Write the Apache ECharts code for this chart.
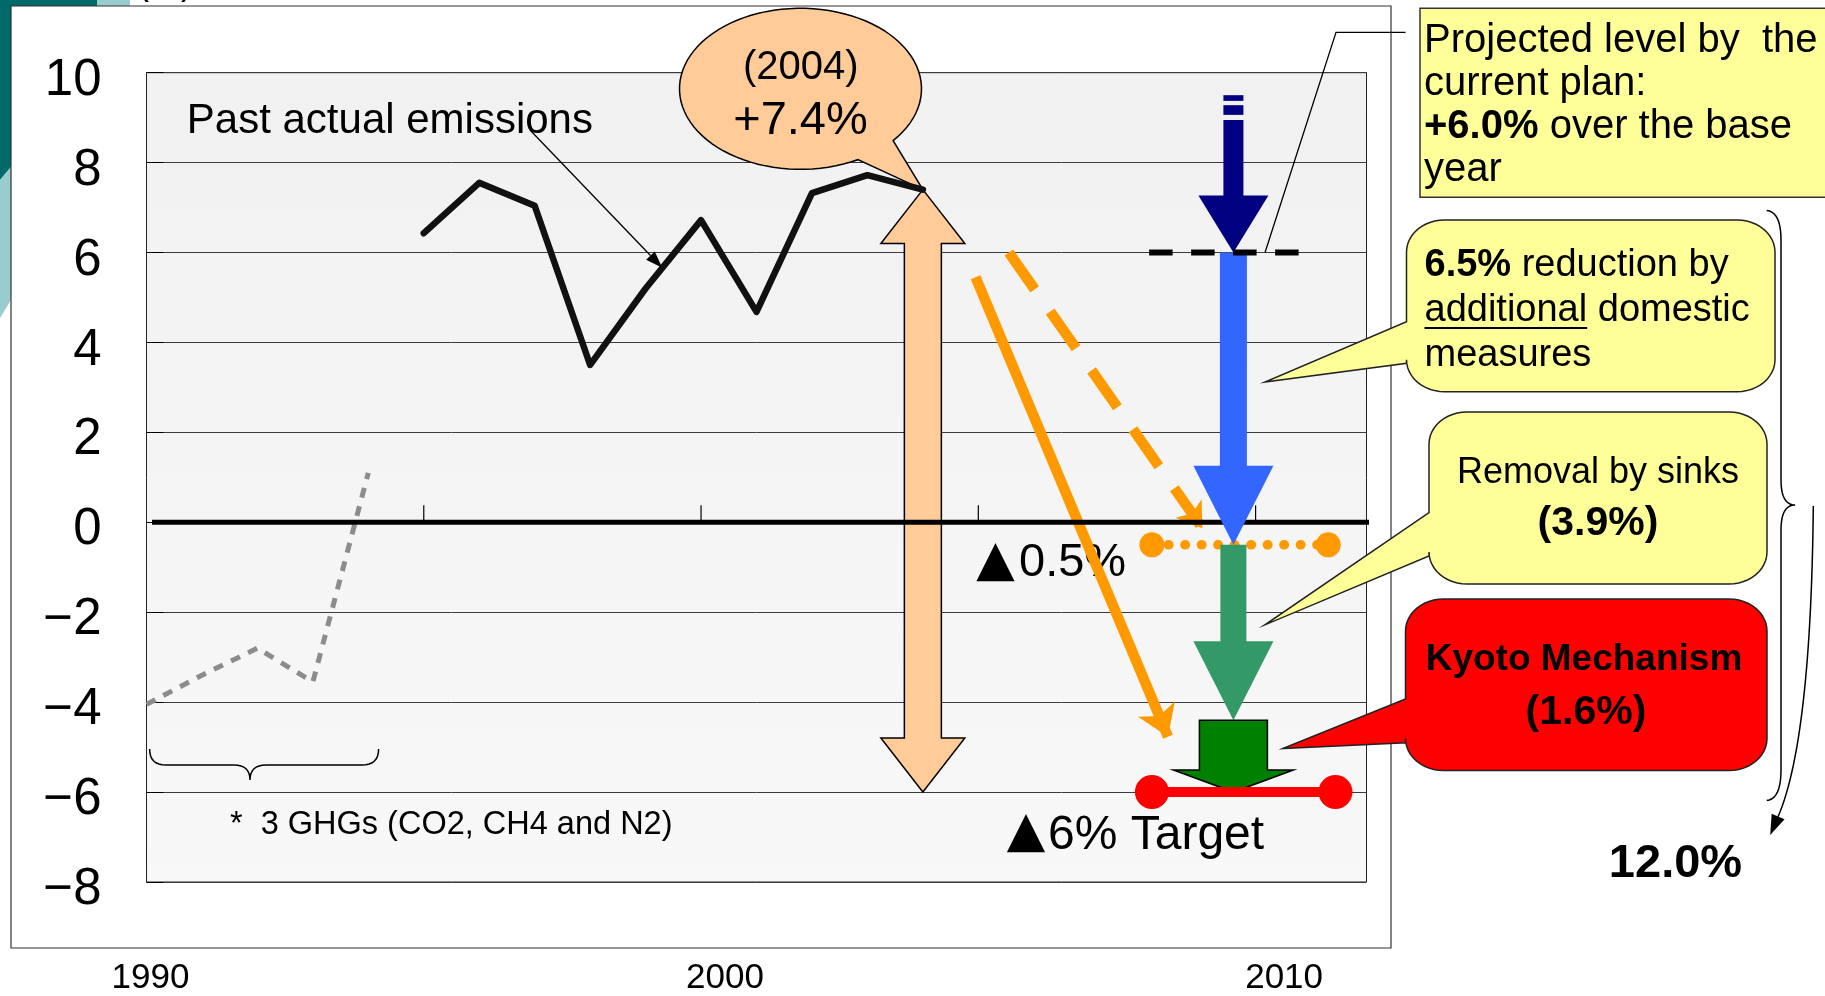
<!DOCTYPE html>
<html>
<head>
<meta charset="utf-8">
<title>Emissions and the path to the -6% target</title>
<script src="https://cdn.jsdelivr.net/npm/echarts@6/dist/echarts.min.js"></script>
<style>
  html, body { margin: 0; padding: 0; background: #ffffff; }
  #chart { width: 1825px; height: 996px; }
</style>
</head>
<body>
<div id="chart"></div>
<script>
// ---- data (change from the base year, %) ----
const pastYears = [1995, 1996, 1997, 1998, 1999, 2000, 2001, 2002, 2003, 2004];
const pastEmissions = [6.43, 7.55, 7.04, 3.5, 5.2, 6.72, 4.68, 7.32, 7.72, 7.4];
const ghgYears = [1990, 1991, 1992, 1993, 1994];
const ghgEmissions = [-4.05, -3.4, -2.8, -3.55, 1.1];
const yearLabels = [1990, 2000, 2010];
const axisTickYears = [1995, 2000, 2005, 2010];

const latestYear = 2004;
const latestLevel = 7.4;
const planYear = 2009.6;
const planTop = 9.5;
const projectedLevel = 6.0;
const domesticCut = 6.5;
const sinkRemoval = 3.9;
const kyotoCredit = 1.6;
const targetLevel = -6.0;

const afterDomestic = projectedLevel - domesticCut;
const afterSinks = afterDomestic - sinkRemoval;
const stepTops = [planTop, projectedLevel, afterDomestic, afterSinks];
const stepEnds = [projectedLevel, afterDomestic, afterSinks, targetLevel];

const trendSolid = [[2004.95, 5.45], [2008.42, -4.77]];
const trendDashed = [[2005.55, 6.0], [2009.04, -0.13]];
const midRange = [2008.13, 2011.31];
const targetRange = [2008.13, 2011.44];
const planRange = [2008.08, 2010.78];
const baseLine = [1990.1, 2012.16];

const FONT = '"Liberation Sans", Arial, Helvetica, sans-serif';
const chart = echarts.init(document.getElementById('chart'), null, { renderer: 'canvas', width: 1825, height: 996 });

// ---- custom shapes ----
function tickItem(params, api) {
  const p = api.coord([api.value(0), api.value(1)]);
  return { type: 'line', shape: { x1: p[0], y1: p[1], x2: p[0], y2: p[1] - 17 }, style: { stroke: '#000', lineWidth: 1.2 } };
}

function doubleArrow(params, api) {
  const a = api.coord([api.value(0), api.value(1)]);
  const b = api.coord([api.value(0), api.value(2)]);
  const x = a[0], yt = a[1], yb = b[1];
  const s = 18.5, h = 42, l = 54;
  return {
    type: 'polygon',
    shape: { points: [[x, yt], [x + h, yt + l], [x + s, yt + l], [x + s, yb - l], [x + h, yb - l], [x, yb],
                      [x - h, yb - l], [x - s, yb - l], [x - s, yt + l], [x - h, yt + l]] },
    style: { fill: '#FFCC99', stroke: '#000', lineWidth: 1.5 }
  };
}

const stepLook = [
  { fill: '#000080', shaft: 20, head: 70, len: 57, gaps: true },
  { fill: '#3366FF', shaft: 27, head: 80, len: 79 },
  { fill: '#339966', shaft: 26, head: 80, len: 79 },
  { fill: '#008000', shaft: 68, head: 120, len: 22, stroke: '#000' }
];
function downArrow(params, api) {
  const look = stepLook[params.dataIndex];
  const a = api.coord([api.value(0), api.value(1)]);
  const b = api.coord([api.value(0), api.value(2)]);
  const x = a[0], y0 = a[1], y1 = b[1];
  const s = look.shaft / 2, h = look.head / 2, yb = y1 - look.len;
  const children = [];
  let top = y0;
  if (look.gaps) {
    children.push({ type: 'rect', shape: { x: x - s, y: y0, width: 2 * s, height: 5.7 }, style: { fill: look.fill } });
    children.push({ type: 'rect', shape: { x: x - s, y: y0 + 10, width: 2 * s, height: 9.7 }, style: { fill: look.fill } });
    top = y0 + 24.7;
  }
  children.push({
    type: 'polygon',
    shape: { points: [[x - s, top], [x + s, top], [x + s, yb], [x + h, yb], [x, y1], [x - h, yb], [x - s, yb]] },
    style: look.stroke ? { fill: look.fill, stroke: look.stroke, lineWidth: 1.5 } : { fill: look.fill }
  });
  return { type: 'group', children };
}

const xRich = {
  y1990: { fontSize: 35, fontFamily: FONT, color: '#000', padding: [0, 0, 0, 8] },
  y2000: { fontSize: 35, fontFamily: FONT, color: '#000', padding: [0, 0, 0, 48] },
  y2010: { fontSize: 35, fontFamily: FONT, color: '#000', padding: [0, 0, 0, 57] }
};

const option = {
  animation: false,
  backgroundColor: '#ffffff',
  grid: {
    left: 146.5, right: 458.5, top: 72.7, bottom: 114, show: true,
    backgroundColor: { type: 'linear', x: 0, y: 0, x2: 0, y2: 1,
      colorStops: [{ offset: 0, color: '#f1f1f1' }, { offset: 1, color: '#f8f8f8' }] },
    borderColor: '#222', borderWidth: 1
  },
  xAxis: {
    type: 'value', min: 1990, max: 2012, interval: 5,
    axisLine: { show: false, onZero: false }, axisTick: { show: false }, splitLine: { show: false },
    axisLabel: {
      margin: 79,
      formatter: v => yearLabels.indexOf(v) >= 0 ? '{y' + v + '|' + v + '}' : '',
      rich: xRich
    }
  },
  yAxis: {
    type: 'value', min: -8, max: 10, interval: 2,
    axisLine: { show: false },
    axisTick: { show: true, inside: true, length: 17, lineStyle: { color: '#000', width: 1 } },
    splitLine: { show: true, lineStyle: { color: '#3c3c3c', width: 1 } },
    axisLabel: {
      margin: 45, fontSize: 51, color: '#000', fontFamily: FONT,
      verticalAlign: 'top', lineHeight: 16,
      formatter: v => v < 0 ? '\u2212' + Math.abs(v) : String(v)
    }
  },
  series: [
    { name: '3 GHGs', type: 'line', data: ghgYears.map((y, i) => [y, ghgEmissions[i]]), symbol: 'none', z: 3,
      lineStyle: { color: '#8c8c8c', width: 5, type: [10, 9] } },
    { name: 'Base year', type: 'line', data: baseLine.map(x => [x, 0]), symbol: 'none', z: 4,
      lineStyle: { color: '#000', width: 5 } },
    { name: 'Axis ticks', type: 'custom', renderItem: tickItem, data: axisTickYears.map(t => [t, 0]), z: 4 },
    { name: 'Gap to target', type: 'custom', renderItem: doubleArrow, data: [[latestYear, latestLevel, targetLevel]], z: 3 },
    { name: 'Trend', type: 'lines', coordinateSystem: 'cartesian2d', data: [{ coords: trendSolid }],
      symbol: ['none', 'arrow'], symbolSize: [0, 30], z: 4,
      lineStyle: { color: '#FF9900', width: 10.5, opacity: 1 } },
    { name: 'Trend (plan)', type: 'lines', coordinateSystem: 'cartesian2d', data: [{ coords: trendDashed }],
      symbol: ['none', 'arrow'], symbolSize: [0, 24], z: 4,
      lineStyle: { color: '#FF9900', width: 10.5, opacity: 1, type: [45, 27] } },
    { name: 'After domestic measures', type: 'line', data: midRange.map(x => [x, afterDomestic]),
      symbol: 'circle', symbolSize: 25, z: 4, itemStyle: { color: '#FF9900' },
      lineStyle: { color: '#FF9900', width: 9.5, type: [0.5, 16], cap: 'round' } },
    { name: 'Reduction steps', type: 'custom', renderItem: downArrow,
      data: stepTops.map((t, i) => [planYear, t, stepEnds[i]]), z: 5 },
    { name: 'Target', type: 'line', data: targetRange.map(x => [x, targetLevel]),
      symbol: 'circle', symbolSize: 34, z: 6, itemStyle: { color: '#FF0000' },
      lineStyle: { color: '#FF0000', width: 10 } },
    { name: 'Past actual emissions', type: 'line', data: pastYears.map((y, i) => [y, pastEmissions[i]]),
      symbol: 'none', z: 6, lineStyle: { color: '#111', width: 6.5, cap: 'round', join: 'round' } },
    { name: 'Projected level', type: 'line', data: planRange.map(x => [x, projectedLevel]), symbol: 'none', z: 7,
      lineStyle: { color: '#000', width: 6, type: [23.5, 18.5] } }
  ]
};
chart.setOption(option);

// ---- annotations ----
const px = p => chart.convertToPixel({ xAxisIndex: 0, yAxisIndex: 0 }, p);

function arcPts(cx, cy, rx, ry, a0, a1, n) {
  const pts = [];
  for (let i = 0; i <= n; i++) {
    const a = (a0 + (a1 - a0) * i / n) * Math.PI / 180;
    pts.push([cx + rx * Math.cos(a), cy + ry * Math.sin(a)]);
  }
  return pts;
}
function quad(p0, c, p1, n) {
  const pts = [];
  for (let i = 1; i <= n; i++) {
    const t = i / n, u = 1 - t;
    pts.push([u * u * p0[0] + 2 * u * t * c[0] + t * t * p1[0], u * u * p0[1] + 2 * u * t * c[1] + t * t * p1[1]]);
  }
  return pts;
}
function callout(x0, y0, x1, y1, rx, ry, tailTop, tailBot, tip) {
  let pts = [[x0, tailTop]];
  pts = pts.concat(arcPts(x0 + rx, y0 + ry, rx, ry, 180, 270, 12));
  pts = pts.concat(arcPts(x1 - rx, y0 + ry, rx, ry, 270, 360, 12));
  pts = pts.concat(arcPts(x1 - rx, y1 - ry, rx, ry, 0, 90, 12));
  pts = pts.concat(arcPts(x0 + rx, y1 - ry, rx, ry, 90, 180, 12));
  pts.push([x0, tailBot]);
  pts.push(tip);
  return pts;
}
function arrowLine(from, to, len, half, z) {
  const dx = to[0] - from[0], dy = to[1] - from[1], d = Math.hypot(dx, dy);
  const ux = dx / d, uy = dy / d;
  const bx = to[0] - ux * len, by = to[1] - uy * len;
  return [
    { type: 'polyline', z, shape: { points: [from, [bx, by]] }, style: { stroke: '#000', lineWidth: 1.3, fill: null } },
    { type: 'polygon', z, shape: { points: [to, [bx - uy * half, by + ux * half], [bx + uy * half, by - ux * half]] },
      style: { fill: '#000' } }
  ];
}
function text(x, y, str, font, extra) {
  extra = extra || {};
  return {
    type: 'text', x, y, z: extra.z != null ? extra.z : 12, scaleX: extra.scaleX || 1,
    style: { text: str, font, fill: extra.fill || '#000', align: extra.align || 'left',
             verticalAlign: extra.va || 'middle', rich: extra.rich, lineHeight: extra.lh }
  };
}

const latestPx = px([latestYear, latestLevel]);
const bubblePts = arcPts(800.5, 88.8, 121, 80.5, 40.05, -298.3, 90);
bubblePts.push(latestPx);

const pastTip = px([1999.3, 5.66]);
const planTip = px([2010.17, projectedLevel]);

// big brace on the right
let brace = [[1766.7, 210.4]];
brace = brace.concat(quad([1766.7, 210.4], [1781, 212], [1781, 240], 10));
brace.push([1781, 480]);
brace = brace.concat(quad([1781, 480], [1781, 505], [1795, 505], 10));
brace = brace.concat(quad([1795, 505], [1781, 505], [1781, 530], 10));
brace.push([1781, 770]);
brace = brace.concat(quad([1781, 770], [1781, 799], [1766.7, 800.5], 10));

// brace under the 3-gas series
let lowBrace = [[149.6, 749]];
lowBrace = lowBrace.concat(quad([149.6, 749], [149.6, 765], [166, 765], 8));
lowBrace.push([234, 765]);
lowBrace = lowBrace.concat(quad([234, 765], [250, 765], [250, 780], 8));
lowBrace = lowBrace.concat(quad([250, 780], [250, 765], [266, 765], 8));
lowBrace.push([362, 765]);
lowBrace = lowBrace.concat(quad([362, 765], [378.6, 765], [378.6, 749], 8));

// curved arrow towards the total
const cStart = [1813.3, 506], cCtrl = [1811, 740], cEnd = [1778.1, 816.6];
const cPts = [cStart].concat(quad(cStart, cCtrl, cEnd, 30));
const cdx = cEnd[0] - cCtrl[0], cdy = cEnd[1] - cCtrl[1], cd = Math.hypot(cdx, cdy);
const cux = cdx / cd, cuy = cdy / cd;
const cTip = [cEnd[0] + cux * 20, cEnd[1] + cuy * 20];

const measure = document.createElement('canvas').getContext('2d');
measure.font = '38px ' + FONT;
const addW = measure.measureText('additional').width;

const reg = (size, lh) => ({ fontSize: size, fontFamily: FONT, fill: '#000', lineHeight: lh });
const bold = (size, lh) => ({ fontSize: size, fontFamily: FONT, fontWeight: 'bold', fill: '#000', lineHeight: lh });
const TRI_FONT = '50px "DejaVu Sans", ' + FONT;

const totalCut = domesticCut + sinkRemoval + kyotoCredit;

const graphics = [
  // slide decoration at the top-left corner
  { type: 'polygon', z: 0, shape: { points: [[0, 0], [11, 0], [11, 167], [0, 180]] }, style: { fill: '#006969' } },
  { type: 'polygon', z: 0, shape: { points: [[0, 180], [11, 167], [11, 300], [0, 318]] }, style: { fill: '#99CCCC' } },
  { type: 'rect', z: 0, shape: { x: 0, y: 0, width: 97, height: 6 }, style: { fill: '#006969' } },
  { type: 'rect', z: 0, shape: { x: 97, y: 0, width: 33, height: 6 }, style: { fill: '#99CCCC' } },
  { type: 'rect', z: 0, shape: { x: 11, y: 6, width: 1380, height: 942 }, style: { fill: null, stroke: '#333', lineWidth: 1.2 } },
  text(165, -16, '(%)', '36px ' + FONT, { align: 'center' }),

  // 2004 bubble
  { type: 'polygon', z: 1, shape: { points: bubblePts }, style: { fill: '#FFCC99', stroke: '#000', lineWidth: 1.5 } },
  text(800.8, 68, '(' + latestYear + ')', '40px ' + FONT, { align: 'center' }),
  text(800.5, 121.5, '+' + latestLevel.toFixed(1) + '%', '47px ' + FONT, { align: 'center' }),

  // past emissions note
  text(186.8, 121.3, 'Past actual emissions', '42px ' + FONT),
  ...arrowLine([530, 130], pastTip, 17, 6, 11),

  // 3-gas note
  { type: 'polyline', z: 11, shape: { points: lowBrace }, style: { stroke: '#000', lineWidth: 1.5, fill: null } },
  text(230, 825, '*  3 GHGs (CO2, CH4 and N2)', '32.5px ' + FONT),

  // level labels
  text(995.5, 562, '\u25B2', TRI_FONT, { align: 'center', z: 1 }),
  text(1019, 563, Math.abs(afterDomestic).toFixed(1) + '%', '47px ' + FONT, { z: 1 }),
  text(1026, 833, '\u25B2', TRI_FONT, { align: 'center', z: 1 }),
  text(1048, 836, Math.abs(targetLevel) + '% Target', '48px ' + FONT, { z: 1 }),

  // projected level box
  { type: 'polyline', z: 11, shape: { points: [planTip, [1336, 32.3], [1405.5, 32.3]] }, style: { stroke: '#000', lineWidth: 1.3, fill: null } },
  { type: 'rect', z: 10, shape: { x: 1420, y: 8.3, width: 420, height: 189 }, style: { fill: '#FFFF99', stroke: '#333', lineWidth: 1.5 } },
  text(1424, 19.5, '{r|Projected level by  the}\n{r|current plan:}\n{b|+' + projectedLevel.toFixed(1) + '%}{r| over the base}\n{r|year}',
       '40px ' + FONT, { va: 'top', rich: { r: reg(40, 43), b: bold(40, 43) } }),

  // domestic measures
  { type: 'polygon', z: 10, shape: { points: callout(1406.5, 220, 1775, 391.7, 38, 32, 321.7, 363.3, px([2010.17, 3.12])) },
    style: { fill: '#FFFF99', stroke: '#222', lineWidth: 1.5 } },
  text(1424.5, 243.5, '{b|' + domesticCut.toFixed(1) + '%}{r| reduction by}\n{r|additional domestic}\n{r|measures}',
       '38px ' + FONT, { va: 'top', rich: { r: reg(38, 45), b: bold(38, 45) } }),
  { type: 'line', z: 12, shape: { x1: 1424.5, y1: 328, x2: 1424.5 + addW, y2: 328 }, style: { stroke: '#000', lineWidth: 2 } },

  // sinks
  { type: 'polygon', z: 10, shape: { points: callout(1429, 412, 1767, 584, 38, 32, 512.7, 556, px([2010.17, -2.28])) },
    style: { fill: '#FFFF99', stroke: '#222', lineWidth: 1.5 } },
  text(1598, 473, 'Removal by sinks', '36px ' + FONT, { align: 'center' }),
  text(1598, 524, '(' + sinkRemoval.toFixed(1) + '%)', 'bold 41px ' + FONT, { align: 'center' }),

  // Kyoto mechanism
  { type: 'polygon', z: 10, shape: { points: callout(1405.5, 599, 1767, 770.6, 38, 32, 699, 742.7, px([2010.49, -5.03])) },
    style: { fill: '#FF0000', stroke: '#222', lineWidth: 1.5 } },
  text(1584, 660, 'Kyoto Mechanism', 'bold 37px ' + FONT, { align: 'center' }),
  text(1586, 713, '(' + kyotoCredit.toFixed(1) + '%)', 'bold 41px ' + FONT, { align: 'center' }),

  // total
  { type: 'polyline', z: 11, shape: { points: brace }, style: { stroke: '#000', lineWidth: 1.5, fill: null } },
  { type: 'polyline', z: 11, shape: { points: cPts }, style: { stroke: '#000', lineWidth: 1.5, fill: null } },
  { type: 'polygon', z: 11, shape: { points: [cTip, [cEnd[0] - cuy * 7, cEnd[1] + cux * 7], [cEnd[0] + cuy * 7, cEnd[1] - cux * 7]] }, style: { fill: '#000' } },
  text(1675.5, 864.5, totalCut.toFixed(1) + '%', 'bold 47px ' + FONT, { align: 'center' })
];

chart.setOption({ graphic: graphics });
</script>
</body>
</html>
